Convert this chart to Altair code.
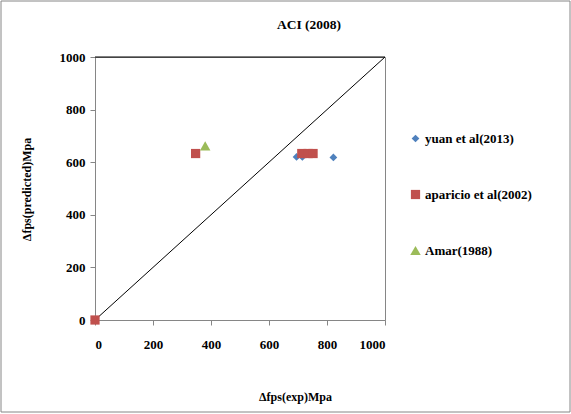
import altair as alt
import pandas as pd

series_names = ["yuan et al(2013)", "aparicio et al(2002)", "Amar(1988)"]
yuan_x = [0, 695, 715, 822]
yuan_y = [0, 620, 620, 618]
aparicio_x = [0, 347, 713, 735, 752]
aparicio_y = [0, 633, 633, 633, 633]
amar_x = [380]
amar_y = [662]
line_x = [0, 1000]
line_y = [0, 1000]
ticks = [0, 200, 400, 600, 800, 1000]
title_text = "ACI (2008)"

rows = []
for sx, sy, name in [(yuan_x, yuan_y, series_names[0]),
                     (aparicio_x, aparicio_y, series_names[1]),
                     (amar_x, amar_y, series_names[2])]:
    for a, b in zip(sx, sy):
        rows.append({"x": a, "y": b, "series": name})
df = pd.DataFrame(rows)
line_df = pd.DataFrame({"x": line_x, "y": line_y})

FONT = "Liberation Serif"
xs = alt.Scale(domain=[0, 1000], nice=False)
ys = alt.Scale(domain=[0, 1000], nice=False)

one = pd.DataFrame({"a": [0]})

border = alt.Chart(one).mark_rect(
    fill=None, stroke="#868686", strokeWidth=1, clip=False
).encode(x=alt.value(-94), x2=alt.value(475), y=alt.value(-56), y2=alt.value(355))

title = alt.Chart(pd.DataFrame({"t": [title_text]})).mark_text(
    font=FONT, fontSize=13.5, fontWeight="bold", color="black", align="center", baseline="middle"
).encode(x=alt.value(214), y=alt.value(-32), text="t:N")

top_rule = alt.Chart(one).mark_rule(color="black", strokeWidth=1).encode(
    x=alt.value(0), x2=alt.value(290), y=alt.value(0)
)

diag = alt.Chart(line_df).mark_line(color="black", strokeWidth=1).encode(
    x=alt.X("x:Q", scale=xs), y=alt.Y("y:Q", scale=ys)
)

points = alt.Chart(df).mark_point(filled=True, opacity=1).encode(
    x=alt.X("x:Q", scale=xs,
            axis=alt.Axis(values=ticks, format="d", title="Δfps(exp)Mpa", grid=False,
                          labelPadding=13, titleX=200, titleY=71, titleAnchor="middle")),
    y=alt.Y("y:Q", scale=ys,
            axis=alt.Axis(values=ticks, format="d", title="Δfps(predicted)Mpa", grid=False,
                          labelPadding=5, titleX=-62, titleY=132, titleAnchor="middle")),
    color=alt.Color("series:N", sort=series_names,
                    scale=alt.Scale(domain=series_names, range=["#4F81BD", "#C0504D", "#9BBB59"]),
                    legend=alt.Legend(title=None, orient="none", legendX=314, legendY=75,
                                      rowPadding=42, symbolSize=50, labelFontSize=13,
                                      labelFont=FONT, labelFontWeight="bold", labelColor="black",
                                      symbolOpacity=1, labelOffset=3)),
    shape=alt.Shape("series:N", sort=series_names,
                    scale=alt.Scale(domain=series_names, range=["diamond", "square", "triangle-up"]),
                    legend=None),
    size=alt.Size("series:N", scale=alt.Scale(domain=series_names, range=[60, 110, 75]), legend=None),
)

chart = alt.layer(border, diag, points, top_rule, title).properties(
    width=290, height=263,
    padding={"left": 95, "top": 57, "right": 186, "bottom": 94},
    autosize=alt.AutoSizeParams(type="none"),
    background="white",
).configure_view(stroke="#868686", strokeWidth=1).configure_axis(
    domainColor="#868686", tickColor="#868686", tickSize=5,
    labelFont=FONT, labelFontSize=13, labelFontWeight="bold", labelColor="black",
    titleFont=FONT, titleFontSize=12, titleFontWeight="bold", titleColor="black",
).configure_legend(labelFont=FONT)

chart.save("out.html", embed_options={"renderer": "svg", "actions": False})
